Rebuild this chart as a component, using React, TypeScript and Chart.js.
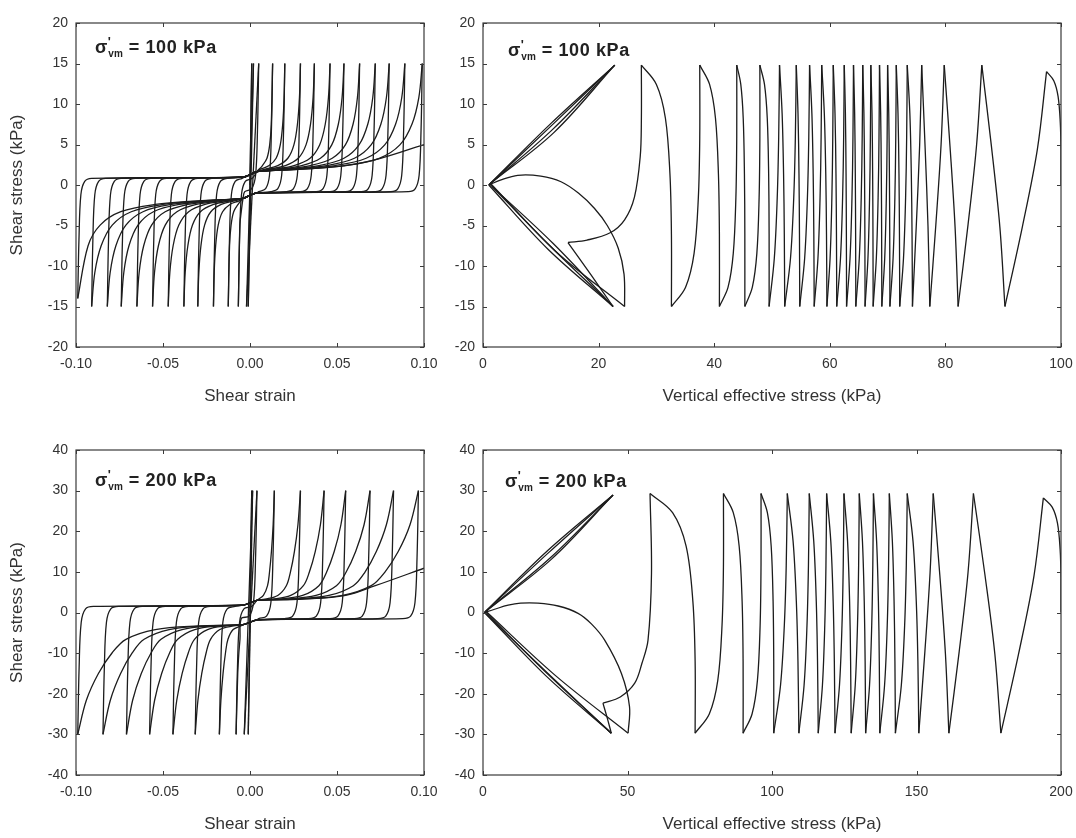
import React, { useEffect, useRef } from "react";
import { Chart, registerables } from "chart.js";

Chart.register(...registerables);

// ---------------- axis ticks ----------------
const strainTicks = [-0.1, -0.05, 0, 0.05, 0.1];
const stressTicks100 = [-20, -15, -10, -5, 0, 5, 10, 15, 20];
const stressTicks200 = [-40, -30, -20, -10, 0, 10, 20, 30, 40];
const vertTicks100 = [0, 20, 40, 60, 80, 100];
const vertTicks200 = [0, 50, 100, 150, 200];

// ---------------- sigma'vm = 100 kPa : stress-strain reversal points ----------------
const strainRev100 = [0, 0.001, -0.001, 0.002, -0.002, 0.005, -0.0067, 0.013, -0.0125, 0.02, -0.021, 0.029, -0.03, 0.037, -0.038, 0.046, -0.047, 0.054, -0.056, 0.063, -0.065, 0.072, -0.074, 0.08, -0.082, 0.089, -0.091, 0.099, -0.099, 0.1];
const stressRev100 = [0, 15, -15, 15, -15, 15, -15, 15, -15, 15, -15, 15, -15, 15, -15, 15, -15, 15, -15, 15, -15, 15, -15, 15, -15, 15, -15, 15, -14, 5];
// branch shape (rising direction; mirrored for falling)
const hookShape100 = [[0.0007, -0.45], [0.0018, -0.08], [0.004, 0.03], [0.008, 0.055]];
const plateauShape100 = [[-0.004, 0.065], [0, 0.085], [0.004, 0.11]];
const hardenShape100 = [[0.3, 0.13], [0.55, 0.16], [0.75, 0.22], [0.87, 0.33], [0.94, 0.5], [0.98, 0.72]];

// ---------------- sigma'vm = 200 kPa : stress-strain reversal points ----------------
const strainRev200 = [0, 0.001, -0.001, 0.0015, -0.0033, 0.004, -0.008, 0.014, -0.0176, 0.029, -0.0315, 0.0426, -0.0443, 0.055, -0.0577, 0.069, -0.071, 0.0825, -0.0845, 0.0968, -0.099, 0.1];
const stressRev200 = [0, 30, -30, 30, -30, 30, -30, 30, -30, 30, -30, 30, -30, 30, -30, 30, -30, 30, -30, 30, -30, 10.9];
const hookShape200 = [[0.0008, -0.45], [0.002, -0.08], [0.0045, 0.03], [0.009, 0.05]];
const plateauShape200 = [[-0.004, 0.06], [0, 0.08], [0.004, 0.1]];
const hardenShape200 = [[0.3, 0.11], [0.55, 0.14], [0.72, 0.22], [0.8, 0.33], [0.88, 0.5], [0.95, 0.72]];

// ---------------- stress paths: reversal points ----------------
const pathSigma100 = [100, 97.5, 90.3, 86.3, 82.2, 79.8, 77.3, 75.9, 74.3, 73.4, 72.1, 71.5, 70.4, 70.0, 69.0, 68.6, 67.5, 67.1, 66.1, 65.7, 64.5, 64.1, 62.9, 62.5, 61.2, 60.6, 59.5, 58.6, 57.3, 56.5, 54.8, 54.2, 52.2, 51.3, 49.5, 47.9, 45.3, 43.9, 40.9, 37.5, 32.6, 27.4];
const pathTau100 = [0, 14, -15, 14.8, -15, 14.8, -15, 14.8, -15, 14.8, -15, 14.8, -15, 14.8, -15, 14.8, -15, 14.8, -15, 14.8, -15, 14.8, -15, 14.8, -15, 14.8, -15, 14.8, -15, 14.8, -15, 14.8, -15, 14.8, -15, 14.8, -15, 14.8, -15, 14.8, -15, 14.8];
const pathSigma200 = [200, 193.9, 179.2, 169.7, 161.2, 155.8, 150.8, 146.8, 142.7, 140.6, 137.3, 135.1, 132.4, 130.2, 127.4, 124.9, 121.8, 118.9, 116.0, 112.9, 109.3, 105.3, 100.6, 96.2, 90.0, 83.2, 73.4, 57.8];
const pathTau200 = [0, 28.2, -29.7, 29.3, -29.7, 29.3, -29.7, 29.3, -29.7, 29.3, -29.7, 29.3, -29.7, 29.3, -29.7, 29.3, -29.7, 29.3, -29.7, 29.3, -29.7, 29.3, -29.7, 29.3, -29.7, 29.3, -29.7, 29.3];
// segment shapes between reversals: [fraction of tau change, fraction of sigma change]
const segStrong = [[0.3, 0], [0.55, 0.05], [0.78, 0.2], [0.92, 0.5]];
const segMild = [[0.3, 0.08], [0.55, 0.22], [0.8, 0.5]];
const segStraight = [[0.33, 0.22], [0.66, 0.58]];
// segment index ranges: [last straight index, last mild index]
const segRanges100 = [7, 33];
const segRanges200 = [5, 21];

// near-origin butterfly loops (sigma'v, tau)
const loops100 = [
  [[27.4, 14.8], [27.4, 8], [27.2, 3.5], [26.2, -1.5], [24.5, -4.3], [22, -5.9], [18, -6.8], [14.7, -7.1]],
  [[14.7, -7.1], [18.6, -11], [22.5, -15]],
  [[22.5, -15], [11.2, -7.9], [1, 0]],
  [[1, 0], [11.9, 7.7], [22.8, 14.8]],
  [[22.8, 14.8], [12.3, 6.5], [1.3, 0.2]],
  [[1.3, 0.2], [12.6, -8.2], [24.5, -15]],
  [[24.5, -15], [24.4, -11], [23.4, -7.8], [21.5, -5], [19.3, -2.9], [16.5, -1], [13.5, 0.4], [10, 1.1], [6, 1.2], [3, 0.6], [1, 0]],
  [[1, 0], [11.8, 7.3], [22.8, 14.8]],
  [[22.8, 14.8], [12.1, 6.9], [1.2, 0.1]],
  [[1.2, 0.1], [11.7, -7.6], [22.5, -15]],
  [[22.5, -15], [12.1, -7.2], [1.6, -0.2]],
];
const loops200 = [
  [[57.8, 29.3], [58.3, 9.6], [57.1, -6.8], [55, -12.5], [52.5, -17.4], [47.5, -20.8], [41.5, -22.3]],
  [[41.5, -22.3], [43, -26], [44.4, -29.7]],
  [[44.4, -29.7], [21.8, -15.6], [0.5, 0]],
  [[0.5, 0], [22.5, 15.3], [45, 28.9]],
  [[45, 28.9], [23.8, 13.2], [1, 0.3]],
  [[1, 0.3], [25.2, -15.6], [50.2, -29.7]],
  [[50.2, -29.7], [50.7, -23.2], [47.9, -15], [42.1, -6.8], [37.5, -2.8], [32.9, -0.2], [26, 1.6], [19, 2.3], [13, 2.3], [8.7, 1.8], [4, 0.8], [0.5, 0]],
  [[0.5, 0], [22.8, 14.8], [45, 28.9]],
  [[45, 28.9], [23.5, 13.6], [0.8, 0.2]],
  [[0.8, 0.2], [22.6, -15.3], [44.4, -29.7]],
  [[44.4, -29.7], [22.3, -14.9], [1, -0.3]],
];

// ---------------- builders ----------------
type Pt = { x: number; y: number };

function strainBranches(xs: number[], ys: number[], amp: number, hook: number[][], plateau: number[][], harden: number[][]): Pt[][] {
  const out: Pt[][] = [];
  for (let i = 0; i < xs.length - 1; i++) {
    const x0 = xs[i], y0 = ys[i], x1 = xs[i + 1], y1 = ys[i + 1];
    const s = y1 > y0 ? 1 : -1;
    const pts: Pt[] = [{ x: x0, y: y0 }];
    if (Math.abs(x1 - x0) >= 0.008) {
      let last = x0;
      const add = (x: number, y: number) => {
        if (s * (x - last) > 0.0006 && s * (x1 - x) > 0.0004) {
          pts.push({ x, y });
          last = x;
        }
      };
      hook.forEach(([dx, f]) => add(x0 + s * dx, s * f * amp));
      plateau.forEach(([px, f]) => add(s * px, s * f * amp));
      harden.forEach(([f, g]) => {
        if (g * amp < 0.75 * Math.abs(y1)) add(f * x1, s * g * amp);
      });
    }
    pts.push({ x: x1, y: y1 });
    out.push(pts);
  }
  return out;
}

function pathSegments(xs: number[], ys: number[], ranges: number[]): Pt[][] {
  const out: Pt[][] = [];
  for (let i = 0; i < xs.length - 1; i++) {
    const x0 = xs[i], y0 = ys[i], x1 = xs[i + 1], y1 = ys[i + 1];
    const shape = i === 0 ? segStrong : i <= ranges[0] ? segStraight : i <= ranges[1] ? segMild : segStrong;
    out.push([
      { x: x0, y: y0 },
      ...shape.map(([t, u]) => ({ x: x0 + u * (x1 - x0), y: y0 + t * (y1 - y0) })),
      { x: x1, y: y1 },
    ]);
  }
  return out;
}

const toPts = (arr: number[][][]): Pt[][] => arr.map((seg) => seg.map(([x, y]) => ({ x, y })));

// ---------------- styling helpers ----------------
const FONT = '"Liberation Sans", Arial, Helvetica, sans-serif';
const TEXT = "#333";
const LINE = "#1c1c1c";

const framePlugin = {
  id: "frameTicks",
  afterDatasetsDraw(chart: any) {
    const { ctx, chartArea } = chart;
    const { left, right, top, bottom } = chartArea;
    const xs = chart.scales.x;
    const ys = chart.scales.y;
    ctx.save();
    ctx.strokeStyle = "#3a3a3a";
    ctx.lineWidth = 1.2;
    ctx.strokeRect(left, top, right - left, bottom - top);
    ctx.lineWidth = 1;
    const L = 4;
    ctx.beginPath();
    xs.ticks.forEach((t: any) => {
      const p = Math.round(xs.getPixelForValue(t.value)) + 0.5;
      ctx.moveTo(p, bottom);
      ctx.lineTo(p, bottom - L);
      ctx.moveTo(p, top);
      ctx.lineTo(p, top + L);
    });
    ys.ticks.forEach((t: any) => {
      const p = Math.round(ys.getPixelForValue(t.value)) + 0.5;
      ctx.moveTo(left, p);
      ctx.lineTo(left + L, p);
      ctx.moveTo(right, p);
      ctx.lineTo(right - L, p);
    });
    ctx.stroke();
    ctx.restore();
  },
};

function sigmaLabel(value: string, dx: number, dy: number) {
  return {
    id: "sigmaLabel",
    afterDraw(chart: any) {
      const { ctx, chartArea } = chart;
      const x = chartArea.left + dx;
      const y = chartArea.top + dy;
      ctx.save();
      ctx.fillStyle = "#222";
      ctx.textBaseline = "alphabetic";
      ctx.textAlign = "left";
      ctx.font = `bold 18px ${FONT}`;
      ctx.fillText("σ", x, y);
      const w = ctx.measureText("σ").width;
      ctx.font = `bold 13px ${FONT}`;
      ctx.fillText("'", x + w + 0.5, y - 7);
      ctx.font = `bold 10px ${FONT}`;
      ctx.fillText("vm", x + w + 1, y + 4);
      const wv = ctx.measureText("vm").width;
      ctx.font = `bold 18px ${FONT}`;
      try {
        (ctx as any).letterSpacing = "0.6px";
      } catch (e) {}
      ctx.fillText(`= ${value} kPa`, x + w + 1 + wv + 6, y);
      ctx.restore();
    },
  };
}

type PanelCfg = {
  left: number;
  top: number;
  width: number;
  height: number;
  padding: { left: number; top: number; right: number; bottom: number };
  yWidth: number;
  xHeight: number;
  xMin: number;
  xMax: number;
  yMin: number;
  yMax: number;
  xTicks: number[];
  yTicks: number[];
  xFmt: (v: number) => string;
  xTitle: string;
  xTitlePad: number;
  yTitle: string | null;
  segments: Pt[][];
  label: string;
  labelDx: number;
  labelDy: number;
};

function Panel({ cfg }: { cfg: PanelCfg }) {
  const ref = useRef<HTMLCanvasElement | null>(null);
  useEffect(() => {
    if (!ref.current) return;
    const tickFont = { family: FONT, size: 14 };
    const titleFont = { family: FONT, size: 17 };
    const chart = new Chart(ref.current, {
      type: "scatter",
      data: {
        datasets: cfg.segments.map((seg) => ({
          data: seg,
          showLine: true,
          borderColor: LINE,
          borderWidth: 1.3,
          pointRadius: 0,
          tension: 0.35,
          fill: false,
        })),
      },
      options: {
        animation: false,
        responsive: false,
        devicePixelRatio: 1,
        layout: { padding: cfg.padding },
        plugins: { legend: { display: false }, tooltip: { enabled: false } },
        events: [],
        scales: {
          x: {
            type: "linear",
            min: cfg.xMin,
            max: cfg.xMax,
            afterBuildTicks: (s: any) => {
              s.ticks = cfg.xTicks.map((v) => ({ value: v }));
            },
            afterFit: (s: any) => {
              s.height = cfg.xHeight;
              s.paddingLeft = 0;
              s.paddingRight = 0;
            },
            grid: { display: false, drawTicks: false },
            border: { display: false },
            ticks: {
              font: tickFont,
              color: TEXT,
              padding: 9,
              maxRotation: 0,
              autoSkip: false,
              callback: (v: any) => cfg.xFmt(Number(v)),
            },
            title: {
              display: true,
              text: cfg.xTitle,
              font: titleFont,
              color: TEXT,
              padding: { top: 0, bottom: cfg.xTitlePad },
            },
          },
          y: {
            type: "linear",
            min: cfg.yMin,
            max: cfg.yMax,
            afterBuildTicks: (s: any) => {
              s.ticks = cfg.yTicks.map((v) => ({ value: v }));
            },
            afterFit: (s: any) => {
              s.width = cfg.yWidth;
              s.paddingTop = 0;
              s.paddingBottom = 0;
            },
            grid: { display: false, drawTicks: false },
            border: { display: false },
            ticks: {
              font: tickFont,
              color: TEXT,
              padding: 8,
              autoSkip: false,
              callback: (v: any) => String(v),
            },
            title: {
              display: !!cfg.yTitle,
              text: cfg.yTitle || "",
              font: titleFont,
              color: TEXT,
              padding: { top: 7, bottom: 0 },
            },
          },
        },
      },
      plugins: [framePlugin, sigmaLabel(cfg.label, cfg.labelDx, cfg.labelDy)],
    } as any);
    return () => chart.destroy();
  }, [cfg]);
  return (
    <canvas
      ref={ref}
      width={cfg.width}
      height={cfg.height}
      style={{ position: "absolute", left: cfg.left, top: cfg.top, width: cfg.width, height: cfg.height }}
    />
  );
}

const fmtStrain = (v: number) => v.toFixed(2);
const fmtInt = (v: number) => String(Math.round(v));

const panels: PanelCfg[] = [
  {
    left: 0, top: 0, width: 440, height: 419,
    padding: { left: 0, top: 23, right: 16, bottom: 0 },
    yWidth: 76, xHeight: 72,
    xMin: -0.1, xMax: 0.1, yMin: -20, yMax: 20,
    xTicks: strainTicks, yTicks: stressTicks100, xFmt: fmtStrain,
    xTitle: "Shear strain", xTitlePad: 12, yTitle: "Shear stress (kPa)",
    segments: strainBranches(strainRev100, stressRev100, 15, hookShape100, plateauShape100, hardenShape100),
    label: "100", labelDx: 19, labelDy: 30,
  },
  {
    left: 440, top: 0, width: 636, height: 419,
    padding: { left: 0, top: 23, right: 15, bottom: 0 },
    yWidth: 43, xHeight: 72,
    xMin: 0, xMax: 100, yMin: -20, yMax: 20,
    xTicks: vertTicks100, yTicks: stressTicks100, xFmt: fmtInt,
    xTitle: "Vertical effective stress (kPa)", xTitlePad: 12, yTitle: null,
    segments: [...pathSegments(pathSigma100, pathTau100, segRanges100), ...toPts(loops100)],
    label: "100", labelDx: 25, labelDy: 33,
  },
  {
    left: 0, top: 419, width: 440, height: 419,
    padding: { left: 0, top: 31, right: 16, bottom: 0 },
    yWidth: 76, xHeight: 63,
    xMin: -0.1, xMax: 0.1, yMin: -40, yMax: 40,
    xTicks: strainTicks, yTicks: stressTicks200, xFmt: fmtStrain,
    xTitle: "Shear strain", xTitlePad: 3, yTitle: "Shear stress (kPa)",
    segments: strainBranches(strainRev200, stressRev200, 30, hookShape200, plateauShape200, hardenShape200),
    label: "200", labelDx: 19, labelDy: 36,
  },
  {
    left: 440, top: 419, width: 636, height: 419,
    padding: { left: 0, top: 31, right: 15, bottom: 0 },
    yWidth: 43, xHeight: 63,
    xMin: 0, xMax: 200, yMin: -40, yMax: 40,
    xTicks: vertTicks200, yTicks: stressTicks200, xFmt: fmtInt,
    xTitle: "Vertical effective stress (kPa)", xTitlePad: 3, yTitle: null,
    segments: [...pathSegments(pathSigma200, pathTau200, segRanges200), ...toPts(loops200)],
    label: "200", labelDx: 22, labelDy: 37,
  },
];

export default function App() {
  return (
    <div style={{ position: "absolute", left: 0, top: 0, width: 1076, height: 838, background: "#fff" }}>
      {panels.map((p, i) => (
        <Panel key={i} cfg={p} />
      ))}
    </div>
  );
}
